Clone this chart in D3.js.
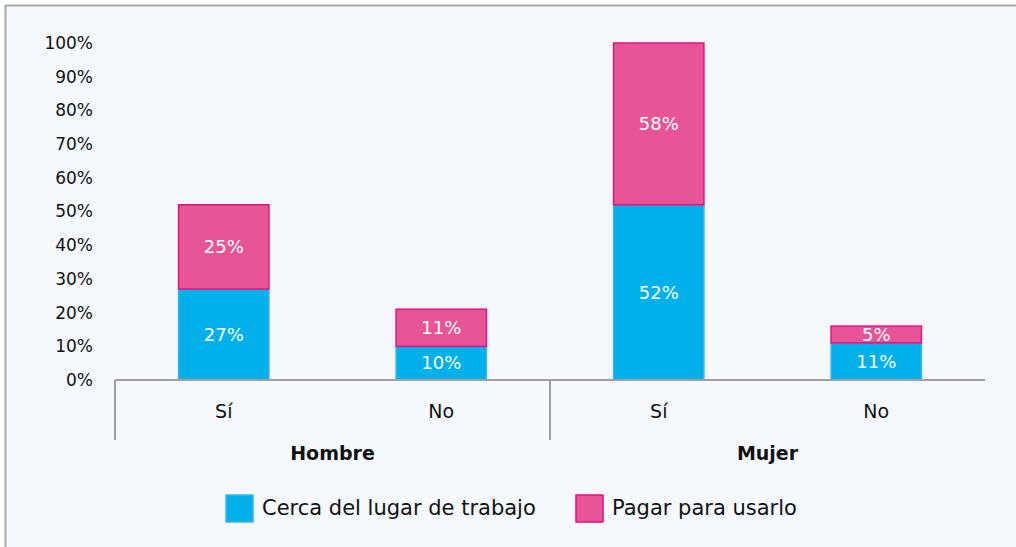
<!DOCTYPE html>
<html>
<head>
<meta charset="utf-8">
<script src="https://cdn.jsdelivr.net/npm/d3@7"></script>
<style>
  body { margin: 0; background: #fff; }
  text { font-family: "DejaVu Sans", sans-serif; }
</style>
</head>
<body>
<div id="chart"></div>
<script>
// data
var groups = ["Hombre", "Mujer"];
var answers = ["Sí", "No"];
var seriesNames = ["Cerca del lugar de trabajo", "Pagar para usarlo"];
var cercaValues = [27, 10, 52, 11];
var pagarValues = [25, 11, 58, 5];
var yTicks = [0, 10, 20, 30, 40, 50, 60, 70, 80, 90, 100];

var width = 1016, height = 547;
var colors = ["#00b0ea", "#e85597"];
var strokes = ["#3fb3e4", "#e6117f"];

var svg = d3.select("#chart").append("svg")
    .attr("width", width)
    .attr("height", height);

// panel with border
svg.append("rect")
    .attr("x", 5.5).attr("y", 5.5)
    .attr("width", width + 20).attr("height", height + 20)
    .attr("fill", "#f5f9fe")
    .attr("stroke", "#a8a8a8")
    .attr("stroke-width", 2);

var plotLeft = 115, plotRight = 985, plotTop = 43, plotBase = 380;

var cats = [];
groups.forEach(function(g){
    answers.forEach(function(a){ cats.push(g + "|" + a); });
});

var x = d3.scaleBand().domain(cats).range([plotLeft, plotRight]).paddingInner(0.58).paddingOuter(0.29);
var xGroup = d3.scaleBand().domain(groups).range([plotLeft, plotRight]);
var y = d3.scaleLinear().domain([0, 100]).range([plotBase, plotTop]).clamp(true);

// y labels
svg.selectAll(".ytick").data(yTicks).enter().append("text")
    .attr("x", 93)
    .attr("y", function(d){ return y(d); })
    .attr("dy", "0.35em")
    .attr("text-anchor", "end")
    .style("font-size", "17px")
    .attr("fill", "#111")
    .text(function(d){ return d + "%"; });

// stacked bars
var rows = cats.map(function(c, i){ return { cat: c, cerca: cercaValues[i], pagar: pagarValues[i] }; });
var stack = d3.stack().keys(["cerca", "pagar"])(rows);

stack.forEach(function(layer, si){
    var g = svg.append("g");
    g.selectAll("rect").data(layer).enter().append("rect")
        .attr("x", function(d){ return x(d.data.cat) + 0.5; })
        .attr("width", x.bandwidth() - 1)
        .attr("y", function(d){ return y(d[1]); })
        .attr("height", function(d){ return y(d[0]) - y(d[1]); })
        .attr("fill", colors[si])
        .attr("stroke", strokes[si])
        .attr("stroke-width", 1.5);
    g.selectAll("text").data(layer).enter().append("text")
        .attr("x", function(d){ return x(d.data.cat) + x.bandwidth() / 2; })
        .attr("y", function(d){ return (y(d[0]) + y(d[1])) / 2; })
        .attr("dy", "0.35em")
        .attr("text-anchor", "middle")
        .attr("fill", "#fff")
        .style("font-size", "18px")
        .text(function(d){ return (d[1] - d[0]) + "%"; });
});

// category axis
var axisColor = "#a0a0a0";
svg.append("line")
    .attr("x1", plotLeft).attr("x2", plotRight)
    .attr("y1", plotBase).attr("y2", plotBase)
    .attr("stroke", axisColor).attr("stroke-width", 2);
[plotLeft, xGroup("Mujer")].forEach(function(px){
    svg.append("line")
        .attr("x1", px).attr("x2", px)
        .attr("y1", plotBase).attr("y2", 440)
        .attr("stroke", axisColor).attr("stroke-width", 2);
});

svg.selectAll(".xlab").data(cats).enter().append("text")
    .attr("x", function(d){ return x(d) + x.bandwidth() / 2; })
    .attr("y", 411)
    .attr("dy", "0.35em")
    .attr("text-anchor", "middle")
    .attr("fill", "#111")
    .style("font-size", "19px")
    .text(function(d){ return d.split("|")[1]; });

svg.selectAll(".glab").data(groups).enter().append("text")
    .attr("x", function(d){ return xGroup(d) + xGroup.bandwidth() / 2; })
    .attr("y", 453)
    .attr("dy", "0.35em")
    .attr("text-anchor", "middle")
    .attr("fill", "#111")
    .style("font-size", "19px")
    .style("font-weight", "bold")
    .text(function(d){ return d; });

// legend
var legendX = [226, 576];
seriesNames.forEach(function(name, i){
    svg.append("rect")
        .attr("x", legendX[i]).attr("y", 495)
        .attr("width", 27).attr("height", 27)
        .attr("fill", colors[i])
        .attr("stroke", strokes[i]).attr("stroke-width", 1.5);
    svg.append("text")
        .attr("x", legendX[i] + 36).attr("y", 508)
        .attr("dy", "0.35em")
        .attr("fill", "#111")
        .style("font-size", "21px")
        .text(name);
});
</script>
</body>
</html>
